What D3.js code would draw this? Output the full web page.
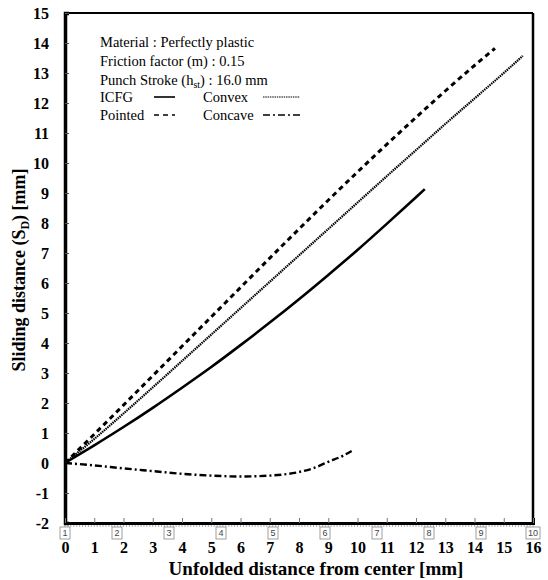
<!DOCTYPE html>
<html>
<head>
<meta charset="utf-8">
<script src="https://cdn.jsdelivr.net/npm/d3@7"></script>
<style>
  body { margin: 0; background: #fff; }
  svg { display: block; }
  text { font-family: "Liberation Serif", "Times New Roman", serif; }
</style>
</head>
<body>
<svg id="chart" width="548" height="580"></svg>
<script>
// values (x = unfolded distance, y = sliding distance)
var icfgX    = [0, 1, 2, 3, 4, 5, 6, 7, 8, 9, 10, 11, 12, 12.3];
var icfgY    = [0, 0.59, 1.2, 1.84, 2.51, 3.2, 3.93, 4.68, 5.46, 6.27, 7.1, 7.97, 8.86, 9.13];
var pointedX = [0, 1, 2, 3, 4, 5, 6, 7, 8, 9, 10, 11, 12, 13, 14, 14.7];
var pointedY = [0, 0.96, 1.93, 2.91, 3.89, 4.87, 5.85, 6.83, 7.8, 8.76, 9.7, 10.62, 11.52, 12.4, 13.25, 13.82];
var convexX  = [0, 1, 2, 3, 4, 5, 6, 7, 8, 9, 10, 11, 12, 13, 14, 15, 15.65];
var convexY  = [0, 0.8, 1.65, 2.52, 3.4, 4.28, 5.16, 6.04, 6.92, 7.8, 8.68, 9.56, 10.43, 11.3, 12.15, 13.0, 13.57];
var concaveX = [0, 1, 2, 3, 4, 5, 6, 7, 8, 8.5, 9, 9.5, 9.8];
var concaveY = [0, -0.08, -0.18, -0.27, -0.36, -0.42, -0.45, -0.42, -0.3, -0.17, 0.04, 0.24, 0.4];

var xTicks = d3.range(0, 17);
var yTicks = d3.range(-2, 16);
var nodeLabels = ["1", "2", "3", "4", "5", "6", "7", "8", "9", "10"];

var infoLines = ["Material : Perfectly plastic", "Friction factor (m) : 0.15"];

var svg = d3.select("#chart");

var x = d3.scaleLinear().domain([0, 16]).range([65, 533]);
var y = d3.scaleLinear().domain([-2, 15]).range([523, 13]);

// borders
svg.append("line").attr("x1", 65).attr("x2", 533).attr("y1", 13).attr("y2", 13)
  .attr("stroke", "#000").attr("stroke-width", 2);
svg.append("line").attr("x1", 533).attr("x2", 533).attr("y1", 13).attr("y2", 523)
  .attr("stroke", "#000").attr("stroke-width", 2.5);

// minor gray ticks along the bottom
svg.append("g").selectAll("line")
  .data(d3.range(0, 16.01, 0.1))
  .join("line")
  .attr("x1", d => x(d)).attr("x2", d => x(d))
  .attr("y1", 523).attr("y2", 527)
  .attr("stroke", "#999").attr("stroke-width", 0.8);

// y axis (plain hyphen for negatives, like the original)
var yAxis = svg.append("g")
  .attr("transform", "translate(65,0)")
  .call(d3.axisLeft(y).tickValues(yTicks).tickSize(-4).tickPadding(16).tickFormat(d => String(d)));
yAxis.select(".domain").attr("stroke-width", 3.5);
yAxis.selectAll(".tick line").attr("stroke", "#555");
yAxis.selectAll("text")
  .style("font-family", "'Liberation Serif', serif").style("font-weight", "bold")
  .style("font-size", "16px").attr("fill", "#000");

// x axis
var xAxis = svg.append("g")
  .attr("transform", "translate(0,523)")
  .call(d3.axisBottom(x).tickValues(xTicks).tickSize(-5).tickPadding(19).tickFormat(d => String(d)));
xAxis.select(".domain").attr("stroke-width", 3);
xAxis.selectAll(".tick line").attr("stroke", "#777");
xAxis.selectAll("text")
  .style("font-family", "'Liberation Serif', serif").style("font-weight", "bold")
  .style("font-size", "16px").attr("fill", "#000");

// boxed node numbers under the axis
var nodes = svg.append("g").selectAll("g")
  .data(nodeLabels)
  .join("g")
  .attr("transform", (d, i) => "translate(" + x(i * 16 / 9) + ",533)");
nodes.append("rect")
  .attr("x", d => d.length > 1 ? -7 : -5).attr("y", -6)
  .attr("width", d => d.length > 1 ? 14 : 10).attr("height", 12)
  .attr("fill", "#fff").attr("stroke", "#888").attr("stroke-width", 0.8);
nodes.append("text")
  .attr("text-anchor", "middle").attr("dy", "0.35em")
  .style("font-family", "'Liberation Sans', sans-serif").style("font-size", "9px")
  .attr("fill", "#444")
  .text(d => d);

// axis titles
svg.append("text")
  .attr("x", 316).attr("y", 575).attr("text-anchor", "middle")
  .style("font-weight", "bold").style("font-size", "19px")
  .text("Unfolded distance from center [mm]");

var yt = svg.append("text")
  .attr("transform", "translate(25,270) rotate(-90)")
  .attr("text-anchor", "middle")
  .style("font-weight", "bold").style("font-size", "18px");
yt.append("tspan").text("Sliding distance (S");
yt.append("tspan").style("font-size", "12px").attr("dy", 4).text("D");
yt.append("tspan").attr("dy", -4).text(") [mm]");

// curves
var line = d3.line().x(d => x(d[0])).y(d => y(d[1])).curve(d3.curveMonotoneX);
var series = [
  { xs: icfgX, ys: icfgY, width: 2.6, dash: null },
  { xs: pointedX, ys: pointedY, width: 3, dash: "5,4" },
  { xs: convexX, ys: convexY, width: 2.2, dash: "1.5,0.8" },
  { xs: concaveX, ys: concaveY, width: 2.4, dash: "7,3,2,3" }
];
series.forEach(s => {
  svg.append("path")
    .datum(d3.zip(s.xs, s.ys))
    .attr("d", line)
    .attr("fill", "none").attr("stroke", "#000")
    .attr("stroke-width", s.width)
    .attr("stroke-dasharray", s.dash);
});

// annotation text
var info = svg.append("g").style("font-size", "14.5px");
infoLines.forEach((t, i) => {
  info.append("text").attr("x", 100).attr("y", 47 + i * 19).text(t);
});
var ps = info.append("text").attr("x", 100).attr("y", 85);
ps.append("tspan").text("Punch Stroke (h");
ps.append("tspan").style("font-size", "10px").attr("dy", 3).text("st");
ps.append("tspan").attr("dy", -3).text(") : 16.0  mm");

var legendItems = [
  { name: "ICFG", col: 0, row: 0, s: series[0] },
  { name: "Convex", col: 1, row: 0, s: series[2] },
  { name: "Pointed", col: 0, row: 1, s: series[1] },
  { name: "Concave", col: 1, row: 1, s: series[3] }
];
legendItems.forEach(it => {
  var tx = it.col === 0 ? 100 : 203;
  var lx = it.col === 0 ? 154 : 263;
  var len = it.col === 0 ? 21 : 37;
  var ly = 97 + it.row * 18;
  info.append("text").attr("x", tx).attr("y", ly + 5).text(it.name);
  svg.append("line")
    .attr("x1", lx).attr("x2", lx + len).attr("y1", ly).attr("y2", ly)
    .attr("stroke", "#000")
    .attr("stroke-width", it.s.width > 2.3 ? 1.6 : 1)
    .attr("stroke-dasharray", it.s.dash);
});
</script>
</body>
</html>
